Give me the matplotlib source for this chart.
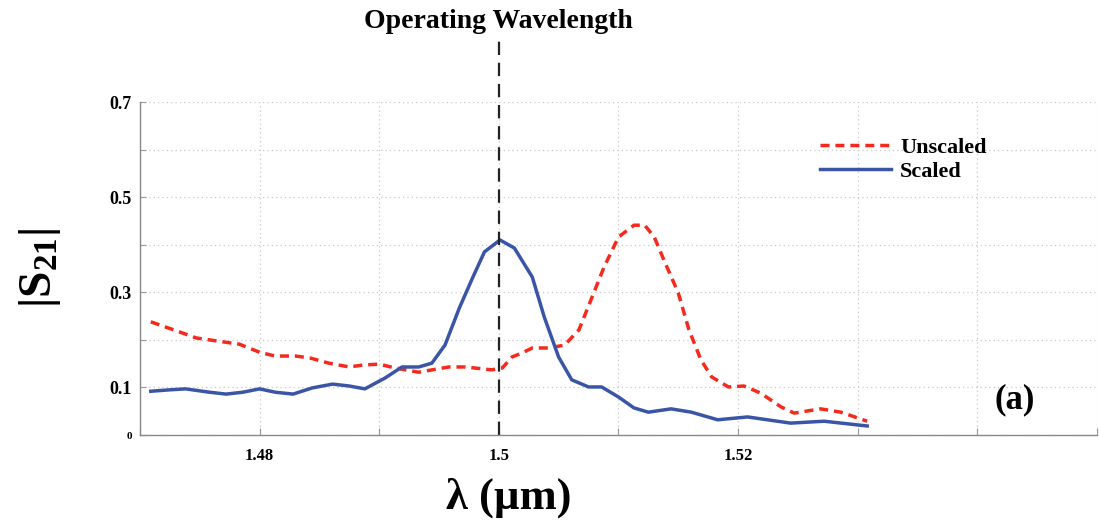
import matplotlib
matplotlib.use("Agg")
import matplotlib.pyplot as plt

# wavelength (um) and |S21|
wl_scaled = [1.4709, 1.4725, 1.4738, 1.4758, 1.4772, 1.4786, 1.4800, 1.4813, 1.4828,
             1.4844, 1.4861, 1.4875, 1.4888, 1.4905, 1.4919, 1.4933, 1.4944, 1.4955,
             1.4967, 1.4978, 1.4988, 1.5001, 1.5013, 1.5028, 1.5038, 1.5050, 1.5061,
             1.5075, 1.5086, 1.5100, 1.5113, 1.5125, 1.5144, 1.5161, 1.5183, 1.5208,
             1.5244, 1.5272, 1.5308]
s21_scaled = [0.092, 0.095, 0.097, 0.090, 0.086, 0.090, 0.097, 0.090, 0.086,
              0.099, 0.107, 0.103, 0.097, 0.120, 0.143, 0.143, 0.151, 0.189,
              0.267, 0.330, 0.385, 0.410, 0.393, 0.332, 0.248, 0.164, 0.116,
              0.101, 0.101, 0.080, 0.057, 0.048, 0.055, 0.048, 0.032, 0.038,
              0.025, 0.029, 0.019]

wl_unscaled = [1.4709, 1.4736, 1.4747, 1.4769, 1.4783, 1.4800, 1.4813, 1.4830, 1.4842,
               1.4858, 1.4875, 1.4886, 1.4900, 1.4913, 1.4933, 1.4958, 1.4972, 1.4994,
               1.5003, 1.5011, 1.5019, 1.5028, 1.5042, 1.5055, 1.5067, 1.5078, 1.5088,
               1.5100, 1.5113, 1.5122, 1.5130, 1.5138, 1.5150, 1.5159, 1.5169, 1.5178,
               1.5192, 1.5205, 1.5219, 1.5236, 1.5247, 1.5269, 1.5286, 1.5308]
s21_unscaled = [0.238, 0.214, 0.204, 0.196, 0.191, 0.174, 0.166, 0.166, 0.162,
                0.151, 0.143, 0.147, 0.149, 0.141, 0.132, 0.143, 0.143, 0.137,
                0.141, 0.164, 0.172, 0.183, 0.183, 0.189, 0.221, 0.290, 0.353,
                0.416, 0.441, 0.441, 0.416, 0.368, 0.299, 0.221, 0.158, 0.122,
                0.101, 0.103, 0.088, 0.059, 0.046, 0.055, 0.048, 0.029]

operating_wl = 1.5
xtick_vals = [1.47, 1.48, 1.49, 1.50, 1.51, 1.52, 1.53, 1.54, 1.55]
xtick_labels = ['', '1.48', '', '1.5', '', '1.52', '', '', '']
ytick_vals = [0, 0.1, 0.2, 0.3, 0.4, 0.5, 0.6, 0.7]
ytick_labels = ['0', '0.1', '', '0.3', '', '0.5', '', '0.7']

plt.rcParams['font.family'] = ['Liberation Serif', 'DejaVu Serif']
plt.rcParams['font.weight'] = 'bold'
plt.rcParams['mathtext.fontset'] = 'custom'
plt.rcParams['mathtext.rm'] = 'Liberation Serif:bold'
plt.rcParams['mathtext.it'] = 'Liberation Serif:bold'
plt.rcParams['mathtext.bf'] = 'Liberation Serif:bold'

fig = plt.figure(figsize=(10.99, 5.25), dpi=100)
ax = fig.add_axes([0.1274, 0.1714, 0.8706, 0.6343])

ax.plot(wl_unscaled, s21_unscaled, color='#f5291c', lw=2.5, ls=(0, (2.6, 1.7)), label='Unscaled')
ax.plot(wl_scaled, s21_scaled, color='#3b55a6', lw=2.5, label='Scaled')

# operating wavelength marker, runs above the axes
ax.plot([operating_wl, operating_wl], [0, 0.834], color='#222222', lw=1.6,
        ls=(0, (6, 3.5)), clip_on=False)
ax.text(operating_wl, 0.843, 'Operating Wavelength', ha='center', va='bottom',
        fontsize=20, fontweight='bold')

ax.set_xlim(1.47, 1.55)
ax.set_ylim(0, 0.7)
ax.set_xticks(xtick_vals)
ax.set_xticklabels(xtick_labels, fontsize=12, fontweight='bold')
ax.set_yticks(ytick_vals)
ax.set_yticklabels(ytick_labels, fontsize=13, fontweight='bold')
ax.get_yticklabels()[0].set_fontsize(8)
ax.tick_params(axis='x', length=5, color='#999999', direction='in', pad=9)
ax.tick_params(axis='y', length=4, color='#999999', direction='in', pad=6)

ax.grid(True, color='#c8c8c8', ls=(0, (1, 2.5)), lw=0.9)
for s in ['top', 'right']:
    ax.spines[s].set_visible(False)
for s in ['left', 'bottom']:
    ax.spines[s].set_color('#888888')
    ax.spines[s].set_linewidth(1.0)

ax.set_xlabel('λ (µm)', fontsize=32, fontweight='bold')
ax.xaxis.set_label_coords(0.385, -0.127)
ax.set_ylabel(r'$|\mathrm{S}_{\mathrm{21}}|$', fontsize=34)
ax.yaxis.set_label_coords(-0.08, 0.5)

ax.text(0.914, 0.105, '(a)', transform=ax.transAxes, fontsize=25, fontweight='bold',
        ha='center', va='center')

ax.legend(loc='upper left', bbox_to_anchor=(0.69, 0.955), frameon=False, fontsize=16,
          handlelength=3.2, handletextpad=0.4, labelspacing=0.18)

fig.savefig('out.png', dpi=100)
